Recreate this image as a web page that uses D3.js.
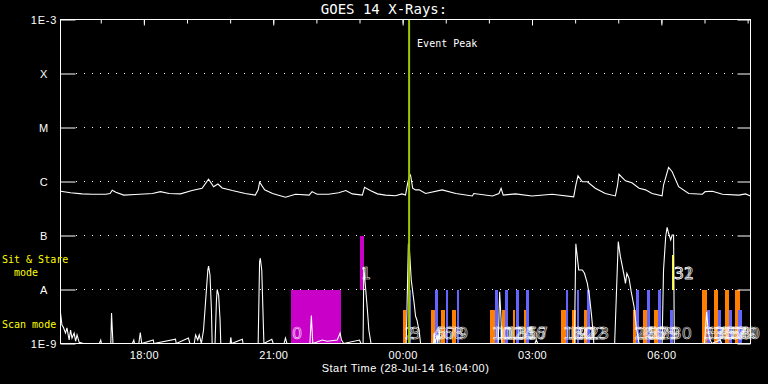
<!DOCTYPE html>
<html><head><meta charset="utf-8">
<script src="https://cdn.jsdelivr.net/npm/d3@7"></script>
<style>body{margin:0;background:#000}svg{display:block}</style>
</head><body>
<svg id="c" width="768" height="384"></svg>
<script>
// ---- data ----
const startTime = new Date(2014, 6, 28, 16, 4, 0);
const durationMin = 960;
const titleText = "GOES 14 X-Rays:";
const eventPeakMin = 485;

// long channel (1-8 A), minutes since start / flux W m^-2
const longT = [0,14,30,44,63,69,72,77,88,104,128,139,151,167,183,197,206,213,219,225,239,257,271,275,277,284,295,313,327,346,350,357,373,387,397,406,420,423,431,441,452,466,475,480,483,485,487,490,494,499,508,531,550,573,575,601,610,613,616,633,656,684,714,717,720,726,733,744,758,772,775,777,786,795,805,814,823,837,839,846,851,860,874,893,897,907,921,944,953,960];
const longFlux = [6.6e-7,6.2e-7,5.9e-7,5.8e-7,5.8e-7,6.0e-7,6.9e-7,6.3e-7,5.6e-7,5.75e-7,6.0e-7,6.5e-7,6.0e-7,5.9e-7,6.8e-7,7.5e-7,1.1e-6,8.0e-7,9.0e-7,7.6e-7,6.8e-7,6.0e-7,5.6e-7,7.0e-7,9.7e-7,7.0e-7,6.0e-7,5.1e-7,5.8e-7,5.6e-7,6.5e-7,5.8e-7,5.8e-7,6.2e-7,6.8e-7,5.9e-7,5.6e-7,7.8e-7,6.8e-7,5.9e-7,5.6e-7,5.45e-7,5.9e-7,5.6e-7,9.2e-7,1.23e-6,1.32e-6,7.5e-7,7.0e-7,7.0e-7,6.0e-7,7.0e-7,6.0e-7,5.4e-7,6.0e-7,5.4e-7,6.0e-7,7.5e-7,5.6e-7,5.9e-7,5.4e-7,5.8e-7,5.2e-7,8.6e-7,1.27e-6,9.9e-7,9.9e-7,7.5e-7,6.0e-7,5.4e-7,8.6e-7,1.36e-6,1.03e-6,9.5e-7,7.5e-7,7.0e-7,6.0e-7,5.45e-7,8.6e-7,1.83e-6,1.52e-6,8.0e-7,6.0e-7,5.8e-7,6.5e-7,6.6e-7,5.8e-7,5.6e-7,5.9e-7,5.4e-7];

// short channel (0.5-4 A)
const shortT = [0,2,4,7,9,12,14,16,19,21,23,26,32,54,56,57,70,71,73,100,102,103,109,111,113,129,130,160,161,178,180,186,188,191,193,196,199,202,205,206,208,210,211,215,217,218,220,222,223,236,237,238,253,254,275,277,278,280,283,294,296,311,313,315,347,349,351,356,364,371,385,389,391,394,416,418,421,422,427,429,432,481,484,485,488,492,494,496,499,501,519,520,521,524,525,527,528,609,611,613,614,660,662,664,715,717,721,726,729,733,736,739,741,742,771,776,779,784,786,788,791,794,798,801,805,837,839,842,844,846,849,851,853,854,896,899,901,903,906,918,920,960];
const shortFlux = [3.7e-9,2.2e-9,2.0e-9,1.56e-9,1.94e-9,1.16e-9,1.78e-9,1.26e-9,1.56e-9,1.1e-9,1.44e-9,1.05e-9,8e-10,8e-10,1.16e-9,8e-10,8e-10,3.67e-9,8e-10,8e-10,1.16e-9,8e-10,8e-10,1.6e-9,8e-10,1.16e-9,8e-10,1.2e-9,8e-10,1.26e-9,8e-10,8e-10,1.44e-9,1.16e-9,1.44e-9,8e-10,1.78e-9,6.4e-9,2.3e-8,2.72e-8,1.86e-8,4.17e-9,8e-10,8e-10,6.4e-9,1.0e-8,7.9e-9,2.72e-9,8e-10,8e-10,1.3e-9,8e-10,1.2e-9,8e-10,8e-10,3.27e-8,3.8e-8,2.3e-8,8e-10,1.2e-9,8e-10,8e-10,1.26e-9,8e-10,8e-10,3.3e-9,8e-10,1.05e-9,1.16e-9,1.1e-9,1.16e-9,1.56e-9,1.16e-9,8e-10,1.16e-9,8e-10,8e-10,2.64e-8,4.17e-9,1.78e-9,8e-10,8e-10,6.96e-8,7.0e-8,1.5e-8,5.6e-9,3.2e-9,2.7e-9,1.7e-9,8e-10,8e-10,1.56e-9,8e-10,1.44e-9,8e-10,1.78e-9,8e-10,8e-10,9.1e-9,2.72e-9,8e-10,8e-10,1.16e-9,8e-10,8e-10,7.0e-8,2.3e-8,2.3e-8,2.0e-8,1.3e-8,7.36e-9,3.14e-9,1.56e-9,8e-10,8e-10,7.68e-8,4.05e-8,1.86e-8,1.3e-8,2.0e-8,1.61e-8,9.1e-9,4.8e-9,2.05e-9,8e-10,8e-10,2.3e-8,9.5e-8,1.42e-7,1.1e-7,8.26e-8,1.02e-7,1.02e-7,8e-10,8e-10,3.88e-9,1.78e-9,1.26e-9,8e-10,1.16e-9,8e-10,8e-10];

// observations
const obsStart = [320,416,477,485,516,521,530,536,545,551,598,604,614,619,629,634,645,648,697,703,712,718,728,733,796,801,811,816,826,831,848,851,851,893,899,909,915,924,930,939,943];
const obsEnd   = [390,422,481,487,521,525,535,539,550,555,604,608,618,623,633,638,648,652,703,706,717,722,733,737,800,805,816,820,831,835,852,854,854,900,903,915,919,930,934,945,948];
const obsColor = ["magenta","magenta","orange","blue","orange","blue","orange","blue","orange","blue","orange","blue","orange","blue","orange","blue","orange","blue","orange","blue","orange","blue","orange","blue","orange","blue","orange","blue","orange","blue","blue","yellow","yellow","orange","blue","orange","blue","orange","blue","orange","blue"];
const obsBand  = ["scan","sit","scan","scan","scan","scan","scan","scan","scan","scan","scan","scan","scan","scan","scan","scan","scan","scan","scan","scan","scan","scan","scan","scan","scan","scan","scan","scan","scan","scan","scan","sit","sit","scan","scan","scan","scan","scan","scan","scan","scan"];
const obsTop   = [1e-8,1e-7,4.2e-9,1e-8,4.2e-9,1e-8,4.2e-9,1e-8,4.2e-9,1e-8,4.2e-9,1e-8,4.2e-9,1e-8,4.2e-9,1e-8,4.2e-9,1e-8,4.2e-9,1e-8,4.2e-9,1e-8,4.2e-9,1e-8,4.2e-9,1e-8,4.2e-9,1e-8,4.2e-9,1e-8,4.2e-9,4.3e-8,4.3e-8,1e-8,4.2e-9,1e-8,4.2e-9,1e-8,4.2e-9,1e-8,4.2e-9];

const yTickValues = [1e-9,1e-8,1e-7,1e-6,1e-5,1e-4,1e-3];
const yTickLabels = ["1E-9","A","B","C","M","X","1E-3"];
const gridLevels = [1e-8,1e-7,1e-6,1e-5,1e-4];
const colorMap = {magenta:"#c800c8", orange:"#ff8000", blue:"#6464ff", yellow:"#ffff00"};

// ---- drawing ----
const svg = d3.select("#c");
svg.append("rect").attr("width",768).attr("height",384).attr("fill","#000");
const L = 60.5, R = 750.5, T = 19.5, B = 343.5;
const tm = m => new Date(startTime.getTime() + m*60000);
const x = d3.scaleTime().domain([startTime, tm(durationMin)]).range([L, R]);
const y = d3.scaleLog().domain([1e-9, 1e-3]).range([B, T]).clamp(true);
const mono = "'DejaVu Sans Mono', monospace";
const sans = "'Liberation Sans', Arial, sans-serif";

svg.append("clipPath").attr("id","clip").append("rect")
  .attr("x",L).attr("y",T-2).attr("width",R-L).attr("height",B-T+2);

// gridlines
svg.append("g").selectAll("line").data(gridLevels).join("line")
  .attr("x1",76).attr("x2",737).attr("y1",d=>y(d)).attr("y2",d=>y(d))
  .attr("stroke","#fff").attr("stroke-dasharray","1 7");

// observation bars
const obs = obsStart.map((s,i)=>({s, e:obsEnd[i], c:obsColor[i], band:obsBand[i], top:obsTop[i], i}));
svg.append("g").attr("shape-rendering","crispEdges").selectAll("rect").data(obs).join("rect")
  .attr("x", d=>x(tm(d.s)))
  .attr("width", d=>Math.max(1, x(tm(d.e))-x(tm(d.s))))
  .attr("y", d=>y(d.top))
  .attr("height", d=>y(d.band==="sit"?1e-8:1e-9) - y(d.top))
  .attr("fill", d=>colorMap[d.c]);

// curves
const line = d3.line().x(d=>x(tm(d[0]))).y(d=>y(d[1]));
const gc = svg.append("g").attr("clip-path","url(#clip)");
gc.append("path").datum(longT.map((t,i)=>[t,longFlux[i]]))
  .attr("d",line).attr("fill","none").attr("stroke","#fff").attr("stroke-width",1.1);
gc.append("path").datum(shortT.map((t,i)=>[t,shortFlux[i]]))
  .attr("d",line).attr("fill","none").attr("stroke","#fff").attr("stroke-width",1.1);

// observation labels (hollow numerals)
svg.append("g").selectAll("text").data(obs).join("text")
  .attr("x", d=>x(tm(d.s))+1.5)
  .attr("y", d=>d.band==="sit" ? y(1e-8)-11 : y(1e-9)-4.5)
  .attr("font-family","'DejaVu Sans', sans-serif").attr("font-size",16)
  .attr("fill","none").attr("stroke","#fff").attr("stroke-width",0.55)
  .text(d=>d.i);

// event peak line
const xe = x(tm(eventPeakMin));
svg.append("line").attr("x1",xe).attr("x2",xe).attr("y1",T).attr("y2",B)
  .attr("stroke","#9cc800").attr("stroke-width",2);
svg.append("text").attr("x",xe+8).attr("y",47).attr("fill","#fff")
  .attr("font-family",mono).attr("font-size",10).text("Event Peak");

// axes
const yl = svg.append("g").attr("transform",`translate(${L},0)`)
  .call(d3.axisLeft(y).tickValues(yTickValues).tickFormat((d,i)=>yTickLabels[i]).tickSize(-15));
yl.select(".domain").remove();
yl.selectAll("line").attr("stroke","#fff");
yl.selectAll("text").attr("x",-16.5).attr("text-anchor","middle").attr("fill","#fff")
  .attr("font-family",sans).attr("font-size",11).attr("letter-spacing",0.8);

const yr = svg.append("g").attr("transform",`translate(${R},0)`)
  .call(d3.axisRight(y).tickValues(yTickValues).tickFormat("").tickSize(-13));
yr.select(".domain").remove();
yr.selectAll("line").attr("stroke","#fff");

const xtMinor = svg.append("g").attr("transform",`translate(0,${T})`)
  .call(d3.axisTop(x).ticks(d3.timeHour.every(1)).tickFormat("").tickSize(-4));
xtMinor.select(".domain").remove();
xtMinor.selectAll("line").attr("stroke","#fff");
const xtMajor = svg.append("g").attr("transform",`translate(0,${T})`)
  .call(d3.axisTop(x).ticks(d3.timeHour.every(3)).tickFormat("").tickSize(-6));
xtMajor.select(".domain").remove();
xtMajor.selectAll("line").attr("stroke","#fff");

const xb = svg.append("g").attr("transform",`translate(0,${B})`)
  .call(d3.axisBottom(x).ticks(d3.timeHour.every(3)).tickFormat(d3.timeFormat("%H:%M")).tickSize(0));
xb.select(".domain").remove();
xb.selectAll("text").attr("dy",null).attr("y",15.5).attr("fill","#fff")
  .attr("font-family",sans).attr("font-size",11).attr("letter-spacing",0.3);

// frame
svg.append("rect").attr("x",L).attr("y",T).attr("width",R-L).attr("height",B-T)
  .attr("fill","none").attr("stroke","#fff");

// texts
svg.append("text").attr("x",384).attr("y",14).attr("text-anchor","middle").attr("fill","#fff")
  .attr("font-family",mono).attr("font-size",14).text(titleText);
svg.append("text").attr("x",(L+R)/2).attr("y",372).attr("text-anchor","middle").attr("fill","#fff")
  .attr("font-family",sans).attr("font-size",11).attr("letter-spacing",0.5)
  .text("Start Time (" + d3.timeFormat("%d-%b-%y %H:%M:%S")(startTime) + ")");
const yellowTxt = svg.append("g").attr("fill","#ffff00").attr("font-family",mono).attr("font-size",10);
yellowTxt.append("text").attr("x",2).attr("y",263).text("Sit & Stare");
yellowTxt.append("text").attr("x",14).attr("y",276).text("mode");
yellowTxt.append("text").attr("x",2).attr("y",328).text("Scan mode");
</script>
</body></html>
